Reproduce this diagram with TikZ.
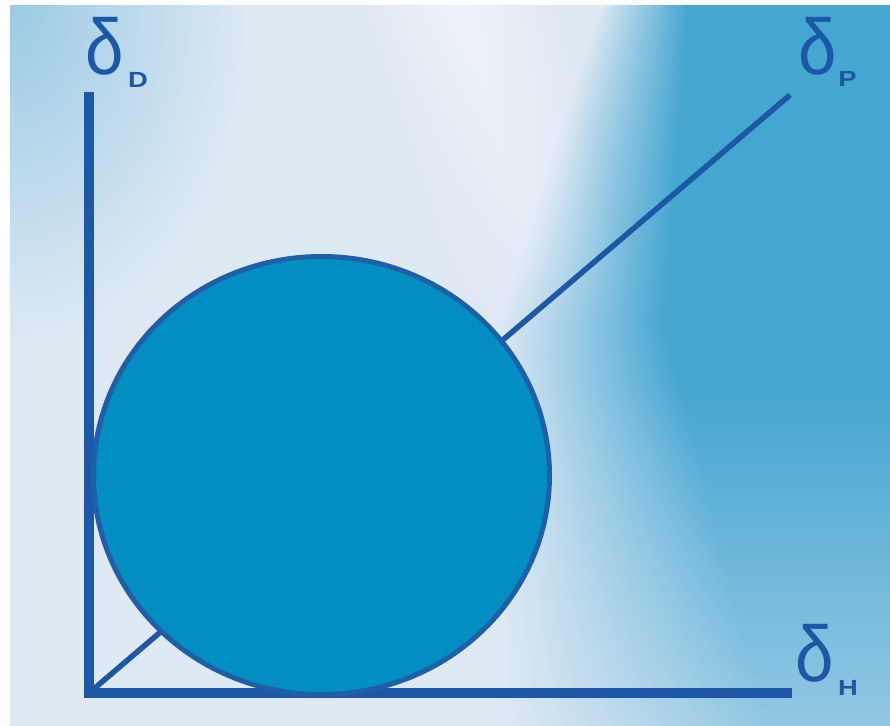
\documentclass[tikz,border=0pt]{standalone}
\usepackage{fontspec}
\setmainfont{Liberation Sans}
\usetikzlibrary{shapes.geometric}
\definecolor{axiscol}{RGB}{28,88,165}
\definecolor{ringcol}{RGB}{30,95,168}
\definecolor{ballcol}{RGB}{0,143,192}
\pgfdeclarefunctionalshading{bgshade}{\pgfpointorigin}{\pgfpoint{881bp}{721bp}}{}{
  721 exch sub
  1 index
  1 index dup 320 gt {pop 320} if 0.32 mul add 590 sub
  1 index 0.25 mul 90 add div
  dup 0 lt {pop 0} if dup 1 gt {pop 1} if
  1 index 380 sub 340 div
  dup 0 lt {pop 0} if dup 1 gt {pop 1} if
  0.5 mul 1 exch sub mul
  2 index 250 div dup mul
  2 index 350 div dup mul add sqrt 1 exch sub
  dup 0 lt {pop 0} if 0.45 mul
  add dup 1 gt {pop 1} if
  3 1 roll
  dup 0.287 mul
  3 -1 roll 450 sub 0.958 mul exch sub abs
  90 div 1 exch sub dup 0 lt {pop 0} if
  exch 350 div 1 exch sub dup 0 lt {pop 0} if mul 0.45 mul
  exch
  dup -0.605 mul 0.875 add
  2 index 1 2 index sub mul add
  exch
  dup -0.264 mul 0.914 add
  3 index 1 2 index sub mul add
  exch
  -0.133 mul 0.953 add
  3 index 1 2 index sub mul add
  4 -1 roll pop
}
\begin{document}
\begin{tikzpicture}[x=1bp,y=-1bp,
  axisline/.style={draw=axiscol,line width=10bp,line join=miter,line cap=butt},
  diagline/.style={draw=axiscol,line width=5.5bp,line cap=butt},
  deltalbl/.style={text=axiscol,inner sep=0,outer sep=0,xscale=1.05,yscale=1.2,font=\fontsize{66}{66}\selectfont},
  sublbl/.style={text=axiscol,inner sep=0,outer sep=0,xscale=1.25,font=\fontsize{22}{22}\selectfont\bfseries}]
\useasboundingbox (0,0) rectangle (890,726);
\fill[white] (0,0) rectangle (890,726);
\node[inner sep=0,outer sep=0,anchor=north west] (bg) at (9,5) {\pgfuseshading{bgshade}};
\coordinate (O) at (89,693);
\coordinate (Dtop) at (89,92);
\coordinate (Hend) at (792,693);
\coordinate (Pend) at (790,95);
\draw[axisline] (Dtop) -- (O) -- (Hend);
\draw[diagline] (O) -- (Pend);
\node[ellipse,draw=ringcol,fill=ballcol,line width=5bp,minimum width=456bp,minimum height=438bp,inner sep=0] (ball) at (321.5,475.5) {};
\node[deltalbl] (dD) at (104.5,46.5) {δ};
\node[sublbl] (sD) at (138,79.5) {D};
\node[deltalbl] (dP) at (818,46.5) {δ};
\node[sublbl] (sP) at (847.5,78.5) {P};
\node[deltalbl] (dH) at (814.5,653.5) {δ};
\node[sublbl] (sH) at (848,687.5) {H};
\end{tikzpicture}
\end{document}
